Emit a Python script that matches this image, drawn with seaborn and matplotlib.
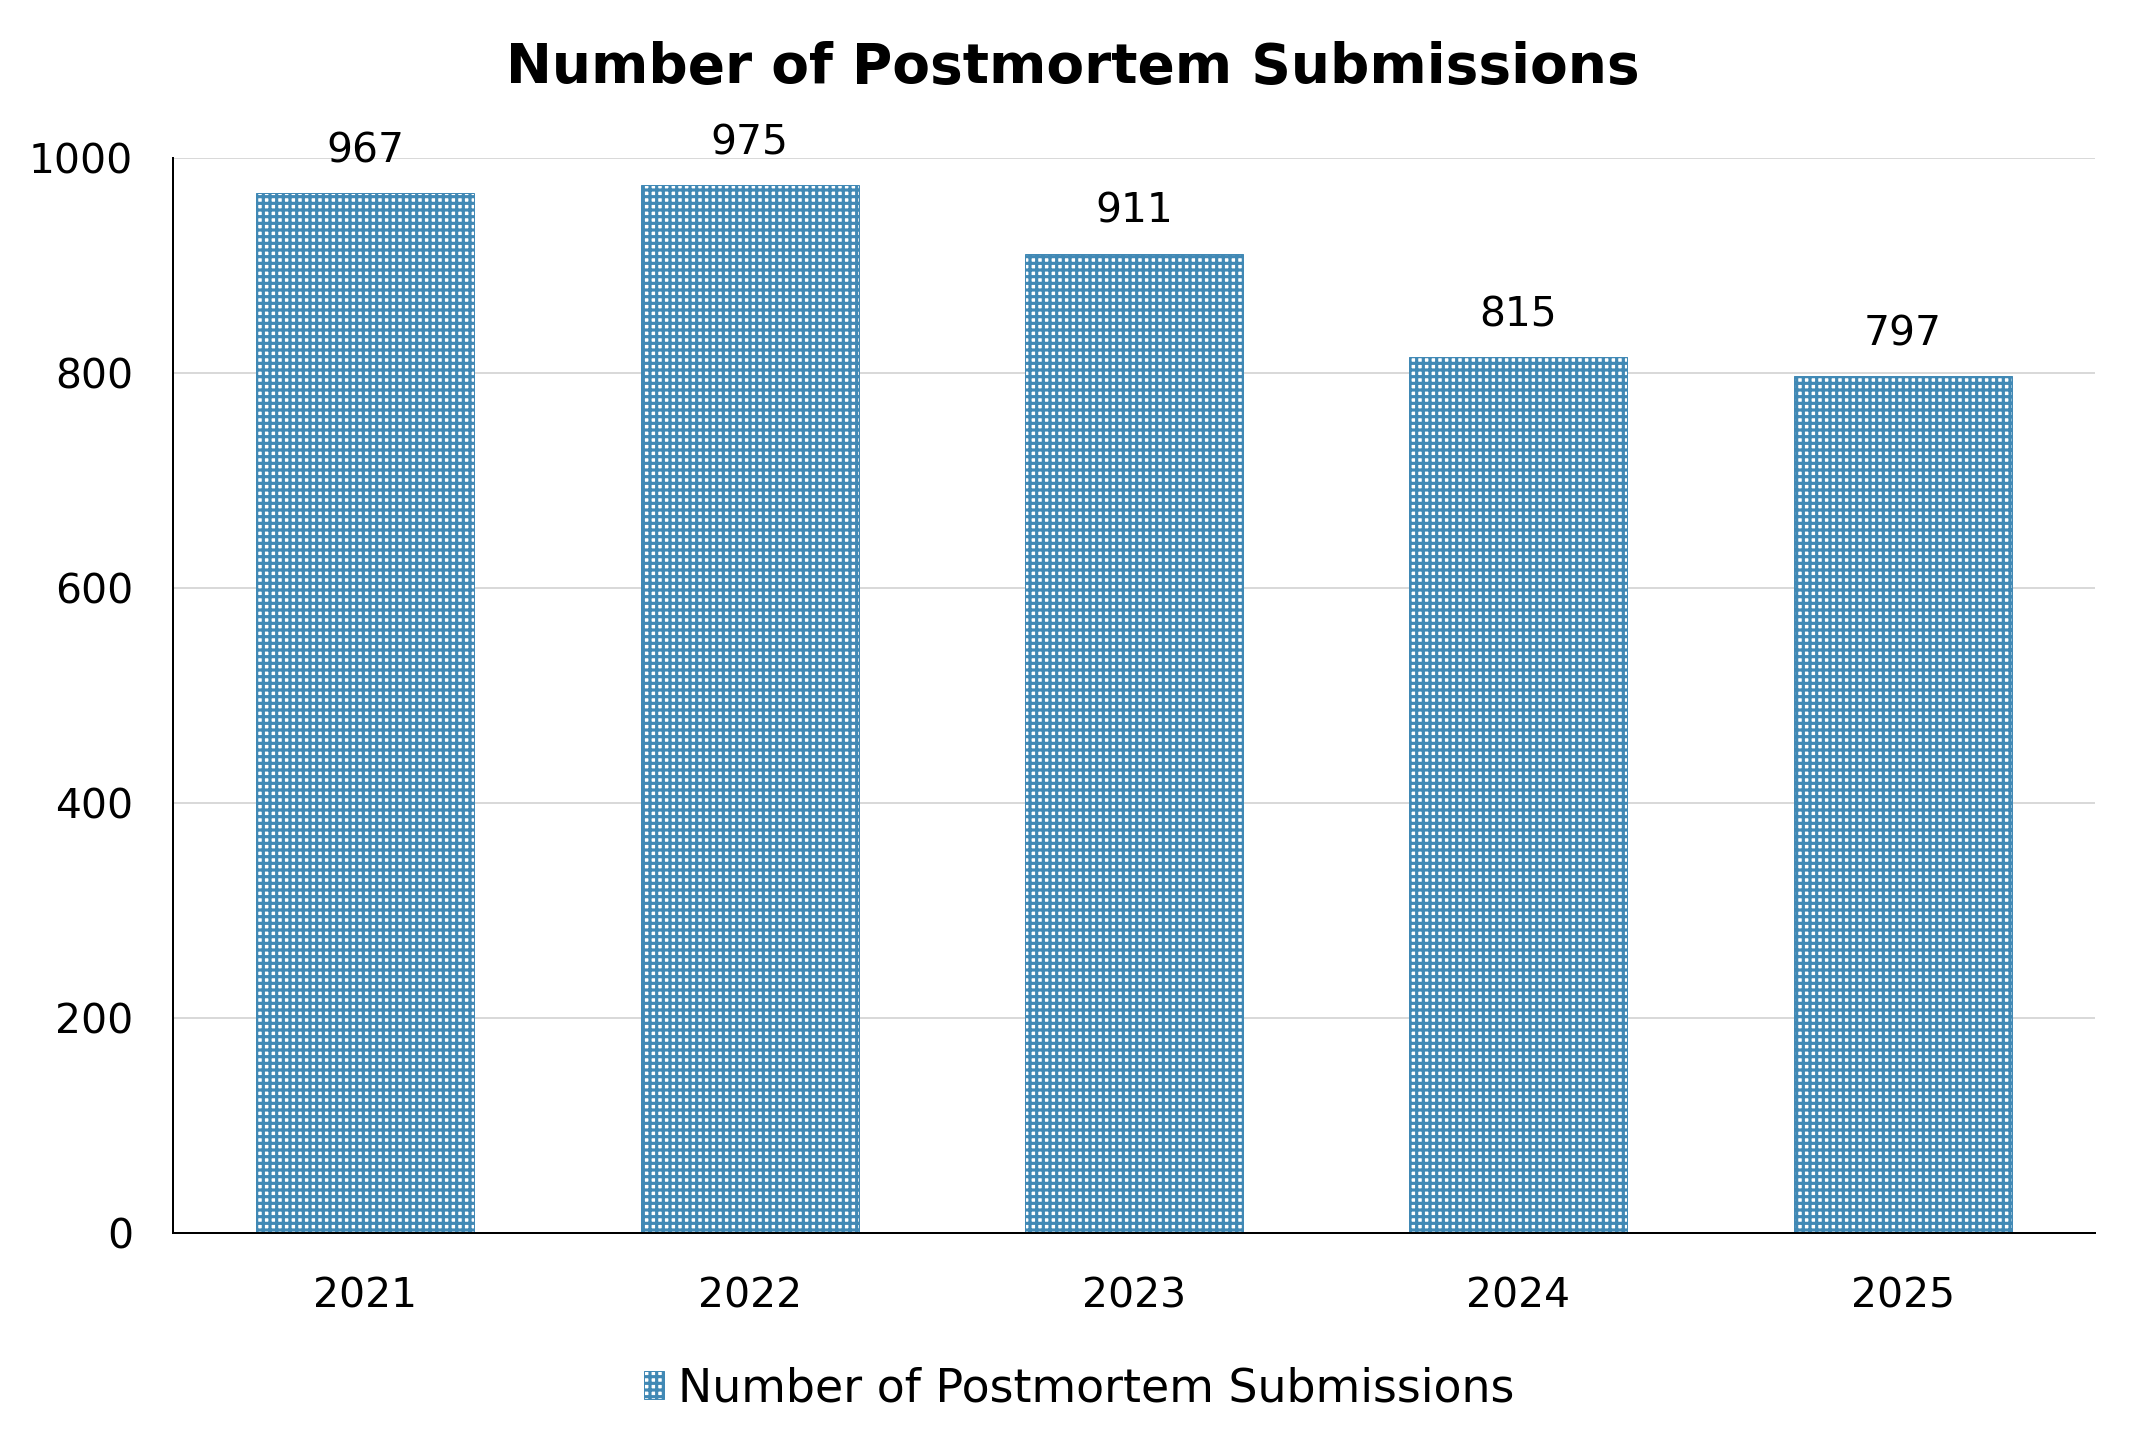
import matplotlib
matplotlib.use("Agg")
import matplotlib.pyplot as plt
import seaborn as sns

years = ["2021", "2022", "2023", "2024", "2025"]
submissions = [967, 975, 911, 815, 797]
series_name = "Number of Postmortem Submissions"
y_ticks = [0, 200, 400, 600, 800, 1000]

blue = "#4189b5"

sns.set_style("white")
plt.rcParams["font.family"] = ["DejaVu Sans"]
plt.rcParams["text.color"] = "black"
plt.rcParams["xtick.color"] = "black"
plt.rcParams["ytick.color"] = "black"
plt.rcParams["hatch.color"] = blue
plt.rcParams["hatch.linewidth"] = 1.9

fig = plt.figure(figsize=(17.875, 12.1), dpi=120)
ax = fig.add_axes([0.0807, 0.1508, 0.896, 0.7404])

sns.barplot(x=years, y=submissions, ax=ax, color="white", width=0.567,
            edgecolor=blue, linewidth=0.6, hatch="+++", label=series_name)

ax.set_ylim(0, 1000)
ax.set_xlim(-0.5, 4.5)
ax.set_yticks(y_ticks)
ax.yaxis.grid(True, color="#d9d9d9", linewidth=1.2)
ax.set_axisbelow(True)
for s in ["top", "right"]:
    ax.spines[s].set_visible(False)
for s in ["left", "bottom"]:
    ax.spines[s].set_color("black")
    ax.spines[s].set_linewidth(1.2)
ax.tick_params(axis="y", length=0, pad=24, labelsize=24.5)
ax.tick_params(axis="x", length=0, pad=26, labelsize=24.5)
ax.set_xlabel("")
ax.set_ylabel("")

ax.bar_label(ax.containers[0], padding=13, fontsize=24.5)

fig.text(0.5, 0.953, series_name, ha="center", va="center",
         fontsize=33, fontweight="bold")

ax.legend(loc="center", bbox_to_anchor=(0.503, 0.0434), bbox_transform=fig.transFigure,
          frameon=False, fontsize=27.5, handlelength=0.45, handleheight=0.55,
          handletextpad=0.3)

fig.savefig("out.png", dpi=120)
